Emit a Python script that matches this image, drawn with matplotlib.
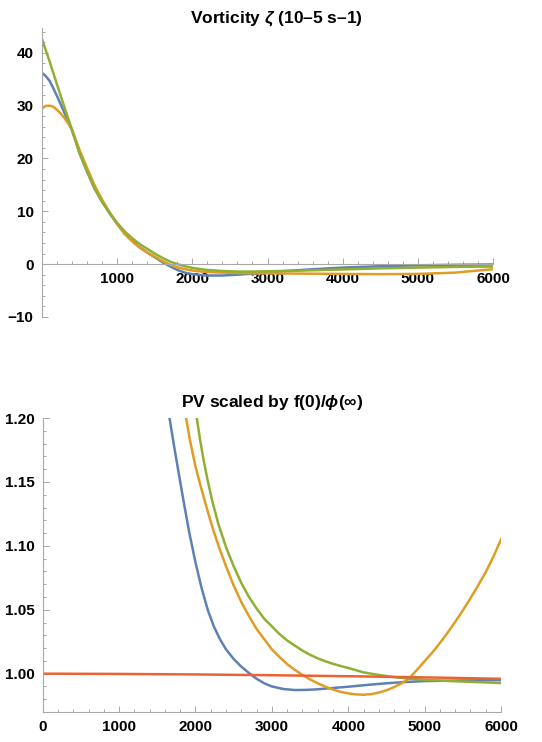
import matplotlib
matplotlib.use("Agg")
import matplotlib.pyplot as plt
from matplotlib.ticker import MultipleLocator, FormatStrFormatter

plt.rcParams['font.family'] = ['Liberation Sans', 'DejaVu Sans']
plt.rcParams['font.weight'] = 'bold'
plt.rcParams['mathtext.fontset'] = 'custom'
plt.rcParams['mathtext.it'] = 'Liberation Sans:bold:italic'
plt.rcParams['mathtext.rm'] = 'Liberation Sans:bold'

# Mathematica default palette
c_blue = '#5E81B5'
c_orange = '#E19C24'
c_green = '#8FB032'
c_red = '#EB6235'
axis_gray = '#A8A8A8'

# --- vorticity (10^-5 s^-1) vs radius ---
vort_x = [0, 50, 100, 150, 200, 250, 300, 350, 400, 500, 600, 700, 800, 900, 1000, 1100, 1200,
          1300, 1400, 1500, 1600, 1700, 1800, 1900, 2000, 2100, 2200, 2400, 2600, 2800,
          3000, 3500, 4000, 4500, 5000, 5500, 6000]
vort_blue = [36.2, 35.6, 34.7, 33.3, 31.8, 30.2, 28.6, 27.0, 25.3, 21.0, 17.5, 14.3, 11.8, 9.6, 7.6,
             5.8, 4.4, 3.2, 2.2, 1.3, 0.4, -0.4, -1.1, -1.6, -1.9, -2.05, -2.15, -2.15, -2.0,
             -1.8, -1.55, -1.05, -0.65, -0.4, -0.22, -0.12, -0.06]
vort_orange = [29.5, 29.95, 30.0, 29.8, 29.2, 28.5, 27.6, 26.6, 25.4, 21.6, 18.2, 14.9, 12.2, 9.8,
               7.6, 5.7, 4.3, 3.1, 2.2, 1.4, 0.6, -0.1, -0.6, -0.95, -1.2, -1.38, -1.5, -1.6,
               -1.68, -1.72, -1.75, -1.8, -1.85, -1.9, -1.85, -1.6, -0.95]
vort_green = [42.6, 40.5, 38.4, 36.2, 34.0, 31.8, 29.6, 27.5, 25.4, 21.0, 17.5, 14.3, 11.8, 9.7,
              7.8, 6.2, 4.9, 3.8, 2.9, 2.0, 1.2, 0.5, 0.0, -0.4, -0.7, -0.92, -1.1, -1.3,
              -1.4, -1.4, -1.35, -1.2, -1.0, -0.8, -0.65, -0.52, -0.45]

# --- PV scaled by f(0)/phi(inf) ---
pv_blue_x = [1660, 1720, 1780, 1850, 1920, 2000, 2080, 2160, 2240, 2320, 2400, 2500, 2600,
             2700, 2800, 2900, 3000, 3150, 3300, 3450, 3600, 3800, 4000, 4250, 4500, 4750,
             5000, 5500, 6000]
pv_blue = [1.200, 1.178, 1.157, 1.133, 1.110, 1.087, 1.067, 1.050, 1.037, 1.027, 1.019, 1.0115,
           1.0055, 1.0005, 0.9960, 0.9925, 0.9900, 0.9880, 0.9872, 0.9873, 0.9878, 0.9888,
           0.9898, 0.9912, 0.9925, 0.9935, 0.9942, 0.9947, 0.9950]
pv_orange_x = [1877, 1930, 2000, 2080, 2160, 2240, 2320, 2400, 2500, 2600, 2700, 2800, 2900,
               3000, 3100, 3200, 3300, 3400, 3500, 3600, 3700, 3800, 3900, 4000, 4100, 4200,
               4300, 4400, 4500, 4600, 4700, 4800, 4900, 5000, 5100, 5200, 5300, 5400, 5500,
               5600, 5700, 5800, 5900, 6000]
pv_orange = [1.200, 1.182, 1.162, 1.144, 1.127, 1.111, 1.097, 1.084, 1.069, 1.056, 1.045, 1.035,
             1.027, 1.019, 1.013, 1.0075, 1.003, 0.999, 0.9955, 0.9925, 0.9898, 0.9876, 0.9858,
             0.9846, 0.9838, 0.9835, 0.9840, 0.9852, 0.9870, 0.9895, 0.9925, 0.9965, 1.0030,
             1.0098, 1.0165, 1.0240, 1.0320, 1.0405, 1.0495, 1.0590, 1.0690, 1.0795, 1.0915,
             1.1050]
pv_green_x = [2017, 2060, 2110, 2160, 2220, 2300, 2400, 2500, 2600, 2700, 2800, 2900, 3000,
              3100, 3200, 3300, 3400, 3500, 3600, 3700, 3800, 3900, 4000, 4200, 4400, 4600,
              4800, 5000, 5300, 5600, 6000]
pv_green = [1.200, 1.183, 1.166, 1.151, 1.135, 1.117, 1.099, 1.084, 1.071, 1.060, 1.051, 1.043,
            1.037, 1.031, 1.026, 1.022, 1.018, 1.0148, 1.0120, 1.0097, 1.0077, 1.0060, 1.0045,
            1.0010, 0.9990, 0.9973, 0.9961, 0.9952, 0.9943, 0.9936, 0.9927]
pv_red_x = [0, 1000, 2000, 3000, 4000, 5000, 6000]
pv_red = [1.0, 0.9998, 0.9994, 0.9988, 0.998, 0.9971, 0.996]

lw = 1.8


def style_axes(ax):
    for side in ['top', 'right']:
        ax.spines[side].set_visible(False)
    for side in ['left', 'bottom']:
        ax.spines[side].set_color(axis_gray)
        ax.spines[side].set_linewidth(0.8)
    ax.tick_params(which='both', direction='in', color=axis_gray, labelsize=11,
                   labelcolor='black', width=0.7)
    ax.tick_params(which='major', length=4, pad=6)
    ax.tick_params(which='minor', length=2.2)
    for lab in ax.get_xticklabels() + ax.get_yticklabels():
        lab.set_fontweight('bold')


fig = plt.figure(figsize=(5.42, 7.42), dpi=100)

# top panel
ax1 = fig.add_axes([0.0775, 0.5728, 0.8321, 0.3895])
ax1.plot(vort_x, vort_blue, color=c_blue, lw=lw)
ax1.plot(vort_x, vort_orange, color=c_orange, lw=lw)
ax1.plot(vort_x, vort_green, color=c_green, lw=lw)
ax1.set_xlim(0, 6000)
ax1.set_ylim(-10, 44.7)
ax1.spines['bottom'].set_position(('data', 0))
ax1.set_xticks([1000, 2000, 3000, 4000, 5000, 6000])
ax1.set_yticks([-10, 0, 10, 20, 30, 40])
ax1.xaxis.set_minor_locator(MultipleLocator(200))
ax1.yaxis.set_minor_locator(MultipleLocator(2))
ax1.set_yticklabels(['\u221210', '0', '10', '20', '30', '40'])
style_axes(ax1)
ax1.set_title(r'Vorticity $\zeta$ (10–5 s–1)', fontsize=12.5, fontweight='bold',
              x=0.52, pad=4)

# bottom panel
ax2 = fig.add_axes([0.0788, 0.0404, 0.8456, 0.3962])
ax2.plot(pv_blue_x, pv_blue, color=c_blue, lw=lw)
ax2.plot(pv_orange_x, pv_orange, color=c_orange, lw=lw)
ax2.plot(pv_green_x, pv_green, color=c_green, lw=lw)
ax2.plot(pv_red_x, pv_red, color=c_red, lw=lw)
ax2.set_xlim(0, 6000)
ax2.set_ylim(0.97, 1.2)
ax2.set_xticks([0, 1000, 2000, 3000, 4000, 5000, 6000])
ax2.set_yticks([1.0, 1.05, 1.10, 1.15, 1.20])
ax2.yaxis.set_major_formatter(FormatStrFormatter('%.2f'))
ax2.xaxis.set_minor_locator(MultipleLocator(200))
ax2.yaxis.set_minor_locator(MultipleLocator(0.01))
style_axes(ax2)
ax2.set_title(r'PV scaled by f(0)/$\phi$(∞)', fontsize=12.5, fontweight='bold', pad=8)

fig.savefig('out.png', dpi=100, facecolor='white')
